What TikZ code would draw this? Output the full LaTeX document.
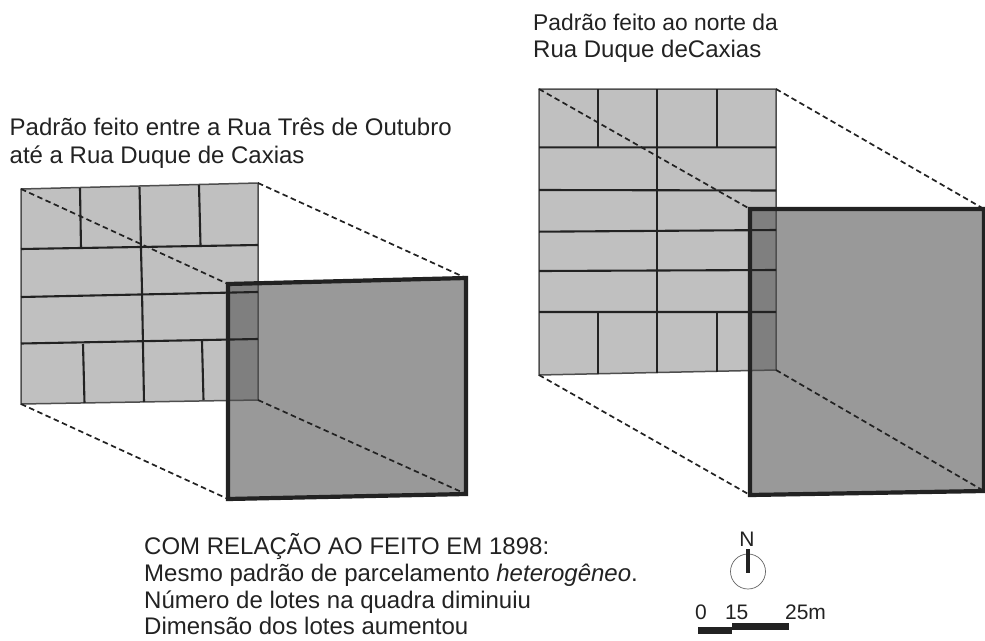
\documentclass[tikz,border=0pt]{standalone}
\usepackage{fontspec}
\setmainfont{Liberation Sans}
\definecolor{blockfill}{HTML}{C0C0C0}
\definecolor{squarefill}{HTML}{999999}
\definecolor{overlapfill}{HTML}{7F7F7F}
\definecolor{ink}{HTML}{222222}
\tikzset{
 lotline/.style={draw=ink,line width=2.1pt},
 outline/.style={draw=ink!80,line width=1.5pt},
 bigsquare/.style={draw=ink,line width=4.2pt,line join=miter},
 dashline/.style={draw=ink,line width=1.7pt,dash pattern=on 5.5pt off 3.5pt},
 caption/.style={anchor=base west,inner sep=0pt,font=\fontsize{24}{24}\selectfont,text=ink},
 scalelabel/.style={anchor=base,inner sep=0pt,font=\fontsize{21}{21}\selectfont,text=ink},
}
\begin{document}
\begin{tikzpicture}[x=1pt,y=-1pt]
\useasboundingbox (0,0) rectangle (985,640);
% left block
\coordinate (ltl) at (21,189); \coordinate (ltr) at (258,183);
\coordinate (lbr) at (258,400); \coordinate (lbl) at (21,404);
\coordinate (sltl) at (228,284); \coordinate (sltr) at (466,278);
\coordinate (slbr) at (466,494); \coordinate (slbl) at (228,499);
\fill[blockfill] (ltl)--(ltr)--(lbr)--(lbl)--cycle;
\fill[squarefill] (sltl)--(sltr)--(slbr)--(slbl)--cycle;
\fill[overlapfill] (sltl)--(258,283.3)--(lbr)--(228,400.6)--cycle;
\draw[outline] (ltl)--(ltr)--(lbr)--(lbl)--cycle;
\draw[lotline] (21,249)--(258,245) (21,297)--(258,292) (21,343.5)--(258,339);
\draw[lotline] (139.5,187)--(142,290)--(144,402);
\draw[lotline] (80,188)--(81,248) (199,185)--(200.5,245) (83,344)--(84.5,403) (202,341)--(203.5,400);
\draw[dashline] (ltl)--(sltl) (ltr)--(sltr) (lbl)--(slbl) (lbr)--(slbr);
\draw[bigsquare] (sltl)--(sltr)--(slbr)--(slbl)--cycle;
% right block
\coordinate (rtl) at (539,89); \coordinate (rtr) at (776,89);
\coordinate (rbr) at (776,370); \coordinate (rbl) at (539,375);
\coordinate (srtl) at (750,209); \coordinate (srtr) at (984,209);
\coordinate (srbr) at (984,491); \coordinate (srbl) at (750,495);
\fill[blockfill] (rtl)--(rtr)--(rbr)--(rbl)--cycle;
\fill[squarefill] (srtl)--(srtr)--(srbr)--(srbl)--cycle;
\fill[overlapfill] (srtl)--(776,209)--(rbr)--(750,370.5)--cycle;
\draw[outline] (rtl)--(rtr)--(rbr)--(rbl)--cycle;
\draw[lotline] (539,147.3)--(776,147.3) (539,190)--(776,190.5) (539,231.7)--(776,230) (539,271)--(776,270) (539,312)--(776,312);
\draw[lotline] (657,89)--(657,373);
\draw[lotline] (598,89)--(598,147) (716.7,89)--(716.7,147) (598,312)--(598,374) (716.7,312)--(716.7,372);
\draw[dashline] (rtl)--(srtl) (rtr)--(srtr) (rbl)--(srbl) (rbr)--(srbr);
\draw[bigsquare] (srtl)--(srtr)--(srbr)--(srbl)--cycle;
% captions
\node[caption,font=\fontsize{22.8}{22.8}\selectfont] (capra) at (533,30) {Padrão feito ao norte da};
\node[caption] (caprc) at (533,57) {Rua Duque deCaxias};
\node[caption] (capla) at (9.5,135.7) {Padrão feito entre a Rua Três de Outubro};
\node[caption] (caplb) at (9.5,163) {até a Rua Duque de Caxias};
\node[caption] (nota) at (144,554) {COM RELAÇÃO AO FEITO EM 1898:};
\node[caption] (notb) at (144,581) {Mesmo padrão de parcelamento \textit{heterogêneo}.};
\node[caption] (notc) at (144,608) {Número de lotes na quadra diminuiu};
\node[caption] (notd) at (144,634) {Dimensão dos lotes aumentou};
% north
\node[circle,draw=ink!70,line width=.7pt,minimum size=35pt,inner sep=0pt] (compass) at (748,571.5) {};
\coordinate (needle) at (748,549);
\draw[draw=ink,line width=3.5pt] (needle)--(748,573);
\node[scalelabel] (north) at (747,546.7) {N};
% scale
\node[scalelabel] (s0) at (701,619) {0};
\node[scalelabel] (s15) at (736.7,619) {15};
\node[scalelabel] (s25) at (805.5,619) {25m};
\fill[ink] (698,627) rectangle (732,634);
\fill[ink] (732,623) rectangle (789,630);
\end{tikzpicture}
\end{document}
